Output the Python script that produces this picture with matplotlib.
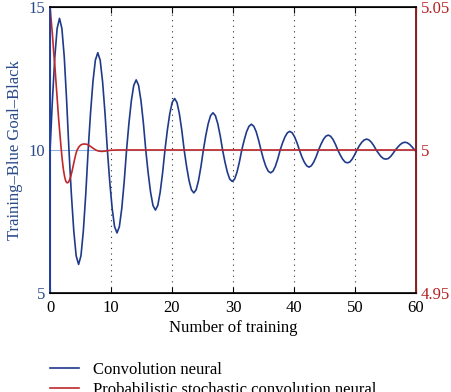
import matplotlib.pyplot as plt

plt.rcParams['font.family'] = ['Liberation Serif', 'DejaVu Serif']

# blue series (left axis), one row per half swing
t_blue = [0.00, 0.39, 0.78, 1.16, 1.55, 1.94, 2.33, 2.71,
          3.10, 3.49, 3.89, 4.28, 4.68, 5.07, 5.46, 5.86,
          6.25, 6.64, 7.04, 7.43, 7.83, 8.22, 8.61, 9.01,
          9.40, 9.79, 10.19, 10.58, 10.98, 11.37, 11.76, 12.16,
          12.55, 12.94, 13.34, 13.73, 14.13, 14.52, 14.91, 15.31,
          15.70, 16.09, 16.49, 16.88, 17.28, 17.67, 18.06, 18.46,
          18.85, 19.24, 19.64, 20.03, 20.43, 20.82, 21.21, 21.61,
          22.00, 22.39, 22.79, 23.18, 23.58, 23.97, 24.36, 24.76,
          25.15, 25.54, 25.94, 26.33, 26.73, 27.12, 27.51, 27.91,
          28.30, 28.69, 29.09, 29.48, 29.88, 30.27, 30.66, 31.06,
          31.45, 31.84, 32.24, 32.63, 33.03, 33.42, 33.81, 34.21,
          34.60, 34.99, 35.39, 35.78, 36.18, 36.57, 36.96, 37.36,
          37.75, 38.14, 38.54, 38.93, 39.33, 39.72, 40.11, 40.51,
          40.90, 41.29, 41.69, 42.08, 42.48, 42.87, 43.26, 43.66,
          44.05, 44.44, 44.84, 45.23, 45.63, 46.02, 46.41, 46.81,
          47.20, 47.59, 47.99, 48.38, 48.78, 49.17, 49.56, 49.96,
          50.35, 50.74, 51.14, 51.53, 51.93, 52.32, 52.71, 53.11,
          53.50, 53.89, 54.29, 54.68, 55.08, 55.47, 55.86, 56.26,
          56.65, 57.04, 57.44, 57.83, 58.23, 58.62, 59.01, 59.41,
          59.80, 60.00]
y_blue = [10.0, 11.76, 13.25, 14.25, 14.6, 14.25, 13.25, 11.76,
          10.0, 8.47, 7.17, 6.30, 6.0, 6.30, 7.17, 8.47,
          10.0, 11.30, 12.40, 13.14, 13.4, 13.14, 12.40, 11.30,
          10.0, 8.89, 7.95, 7.32, 7.1, 7.32, 7.95, 8.89,
          10.0, 10.94, 11.73, 12.26, 12.45, 12.26, 11.73, 10.94,
          10.0, 9.20, 8.52, 8.06, 7.9, 8.06, 8.52, 9.20,
          10.0, 10.69, 11.27, 11.66, 11.8, 11.66, 11.27, 10.69,
          10.0, 9.43, 8.94, 8.61, 8.5, 8.61, 8.94, 9.43,
          10.0, 10.50, 10.92, 11.20, 11.3, 11.20, 10.92, 10.50,
          10.0, 9.58, 9.22, 8.98, 8.9, 8.98, 9.22, 9.58,
          10.0, 10.34, 10.64, 10.83, 10.9, 10.83, 10.64, 10.34,
          10.0, 9.69, 9.43, 9.26, 9.2, 9.26, 9.43, 9.69,
          10.0, 10.25, 10.46, 10.60, 10.65, 10.60, 10.46, 10.25,
          10.0, 9.77, 9.58, 9.45, 9.4, 9.45, 9.58, 9.77,
          10.0, 10.20, 10.37, 10.48, 10.52, 10.48, 10.37, 10.20,
          10.0, 9.83, 9.68, 9.58, 9.55, 9.58, 9.68, 9.83,
          10.0, 10.15, 10.27, 10.35, 10.38, 10.35, 10.27, 10.15,
          10.0, 9.88, 9.77, 9.70, 9.68, 9.70, 9.77, 9.88,
          10.0, 10.10, 10.19, 10.25, 10.27, 10.25, 10.19, 10.10,
          10.0, 9.95]

# red series (right axis)
t_red = [0, 0.2, 0.4, 0.6, 0.8, 1.0, 1.2, 1.4, 1.6, 1.8, 2.0, 2.2, 2.4, 2.6,
         2.8, 3.0, 3.2, 3.4, 3.6, 3.8, 4.0, 4.2, 4.4, 4.7, 5.0, 5.3, 5.6, 6.0,
         6.4, 6.8, 7.2, 7.6, 8.0, 8.5, 9.0, 9.5, 10.0, 11.0, 60.0]
y_red = [5.050, 5.045, 5.040, 5.034, 5.029, 5.023, 5.017, 5.011, 5.006,
         5.001, 4.9965, 4.9930, 4.9905, 4.9890, 4.9885, 4.9887, 4.9895,
         4.9908, 4.9925, 4.9945, 4.9965, 4.9983, 4.9998, 5.0010, 5.0017,
         5.0020, 5.0021, 5.0020, 5.0016, 5.0010, 5.0004, 4.9999, 4.9996,
         4.9995, 4.9996, 4.9998, 4.9999, 5.0, 5.0]

blue = '#1f3a8a'
red = '#c0282a'

fig = plt.figure(figsize=(4.51, 3.92), dpi=100)
ax = fig.add_axes([0.111, 0.2526, 0.811, 0.7296])
ax2 = ax.twinx()

for xv in [10, 20, 30, 40, 50]:
    ax.axvline(xv, color='#333333', ls=(0, (1, 4)), lw=0.8)
ax.axhline(10, color='#8fb0e0', lw=0.8)

l1, = ax.plot(t_blue, y_blue, color=blue, lw=1.2, label='Convolution neural')
l2, = ax2.plot(t_red, y_red, color=red, lw=1.2,
               label='Probabilistic stochastic convolution neural')

ax.set_xlim(0, 60)
ax.set_ylim(5, 15)
ax2.set_ylim(4.95, 5.05)
ax.set_xticks([0, 10, 20, 30, 40, 50, 60])
ax.set_yticks([5, 10, 15])
ax2.set_yticks([4.95, 5, 5.05])
ax2.set_yticklabels(['4.95', '5', '5.05'])

ax.tick_params(axis='x', direction='in', length=4, labelsize=12, top=True, pad=5)
ax.tick_params(axis='y', length=0, labelsize=12, labelcolor='#2a4a8a')
ax2.tick_params(axis='y', length=0, labelsize=12, labelcolor='#b52020')

ax.spines['left'].set_color('#2040a0')
ax2.spines['left'].set_color('#2040a0')
ax2.spines['right'].set_color('#8b2020')
ax2.spines['right'].set_linewidth(1.4)
ax2.spines['left'].set_linewidth(1.4)
for s in ['top', 'bottom']:
    ax2.spines[s].set_linewidth(1.2)

ax.set_xlabel('Number of training', fontsize=12, labelpad=3)
ax.set_ylabel('Training\u2013Blue Goal\u2013Black', fontsize=12,
              color='#2a4a8a', labelpad=4)

fig.legend(handles=[l1, l2], loc='upper left', bbox_to_anchor=(0.097, 0.094),
           frameon=False, fontsize=12, handlelength=1.7, labelspacing=0.27,
           handletextpad=0.85, borderaxespad=0)

fig.savefig('out.png', dpi=100)
